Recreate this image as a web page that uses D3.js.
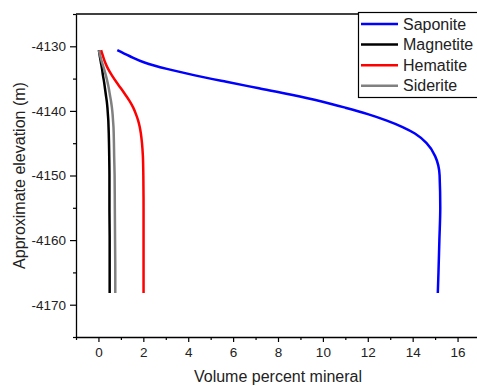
<!DOCTYPE html>
<html>
<head>
<meta charset="utf-8">
<script src="https://cdn.jsdelivr.net/npm/d3@7"></script>
<style>
  body { margin: 0; background: #fff; }
  svg { display: block; font-family: Arial, "Liberation Sans", sans-serif; }
</style>
</head>
<body>
<div id="chart"></div>
<script>
// elevation (m) shared by all series
const elevation = [-4130.6, -4131.5, -4132.5, -4133.5, -4134.5, -4135.5, -4136.5, -4137.5,
  -4138.5, -4139.5, -4140.5, -4141.5, -4142.5, -4143.5, -4145, -4147, -4150, -4155, -4160, -4165, -4168.2];

// volume percent per mineral
const saponite = [0.84, 1.38, 2.05, 3.05, 4.3, 5.7, 7.15, 8.6, 9.9, 11.0, 12.0, 12.85, 13.55, 14.1,
  14.62, 15.0, 15.2, 15.23, 15.19, 15.15, 15.12];
const magnetite = [0.02, 0.06, 0.11, 0.16, 0.2, 0.25, 0.29, 0.33, 0.37, 0.4, 0.42, 0.44, 0.45, 0.46,
  0.47, 0.48, 0.49, 0.49, 0.5, 0.5, 0.5];
const hematite = [0.12, 0.2, 0.3, 0.43, 0.6, 0.79, 1.0, 1.2, 1.39, 1.55, 1.67, 1.77, 1.84, 1.89,
  1.94, 1.98, 2.0, 2.01, 2.01, 2.01, 2.01];
const siderite = [0.02, 0.08, 0.16, 0.25, 0.33, 0.4, 0.46, 0.51, 0.56, 0.6, 0.63, 0.65, 0.67, 0.68,
  0.69, 0.7, 0.72, 0.73, 0.74, 0.75, 0.75];

const seriesNames = ['Saponite', 'Magnetite', 'Hematite', 'Siderite'];
const seriesColors = ['#0000ff', '#000000', '#ff0000', '#808080'];
const seriesValues = [saponite, magnetite, hematite, siderite];

const xTicks = [0, 2, 4, 6, 8, 10, 12, 14, 16];
const yTicks = [-4130, -4140, -4150, -4160, -4170];

const width = 477, height = 386;
const margin = { top: 14, right: -3, bottom: 49, left: 76 };
const font = 'Arial, "Liberation Sans", sans-serif';

const svg = d3.select('#chart').append('svg')
  .attr('width', width)
  .attr('height', height);

const x = d3.scaleLinear().domain([-1, 17]).range([margin.left, width - margin.right]);
const y = d3.scaleLinear().domain([-4125, -4175]).range([margin.top, height - margin.bottom]);

// frame: top border
svg.append('line')
  .attr('x1', x(-1)).attr('x2', x(17))
  .attr('y1', y(-4125)).attr('y2', y(-4125))
  .attr('stroke', '#000').attr('stroke-width', 1.3);

// minor ticks
svg.append('g')
  .attr('transform', 'translate(0,' + y(-4175) + ')')
  .call(d3.axisBottom(x).tickValues(d3.range(-1, 18, 2)).tickSize(3).tickFormat(''))
  .call(g => g.select('.domain').remove())
  .selectAll('line').attr('stroke-width', 1.2);

svg.append('g')
  .attr('transform', 'translate(' + x(-1) + ',0)')
  .call(d3.axisLeft(y).tickValues(d3.range(-4175, -4124, 10)).tickSize(3).tickFormat(''))
  .call(g => g.select('.domain').remove())
  .selectAll('line').attr('stroke-width', 1.2);

// major axes
const xAxis = svg.append('g')
  .attr('transform', 'translate(0,' + y(-4175) + ')')
  .call(d3.axisBottom(x).tickValues(xTicks).tickSize(5).tickSizeOuter(0).tickPadding(5)
    .tickFormat(d => String(d)));
xAxis.attr('font-family', font);
xAxis.select('.domain').attr('stroke-width', 1.3);
xAxis.selectAll('line').attr('stroke-width', 1.2);
xAxis.selectAll('text').style('font-size', '13.5px').attr('fill', '#222');

const yAxis = svg.append('g')
  .attr('transform', 'translate(' + x(-1) + ',0)')
  .call(d3.axisLeft(y).tickValues(yTicks).tickSize(6).tickSizeOuter(0).tickPadding(4)
    .tickFormat(d => String(d)));
yAxis.attr('font-family', font);
yAxis.select('.domain').attr('stroke-width', 1.3);
yAxis.selectAll('line').attr('stroke-width', 1.2);
yAxis.selectAll('text').style('font-size', '13.5px').attr('fill', '#222');

// axis titles
svg.append('text')
  .attr('x', (x(-1) + x(17)) / 2)
  .attr('y', 382)
  .attr('text-anchor', 'middle')
  .style('font-size', '16px')
  .attr('fill', '#222')
  .text('Volume percent mineral');

svg.append('text')
  .attr('transform', 'rotate(-90)')
  .attr('x', -(y(-4125) + y(-4175)) / 2)
  .attr('y', 25)
  .attr('text-anchor', 'middle')
  .style('font-size', '16px')
  .attr('fill', '#222')
  .text('Approximate elevation (m)');

// curves
const line = d3.line()
  .x(d => x(d[0]))
  .y(d => y(d[1]))
  .curve(d3.curveMonotoneY);

seriesValues.forEach((vals, i) => {
  svg.append('path')
    .datum(vals.map((v, j) => [v, elevation[j]]))
    .attr('fill', 'none')
    .attr('stroke', seriesColors[i])
    .attr('stroke-width', 2.5)
    .attr('d', line);
});

// legend
const legend = svg.append('g');
legend.append('rect')
  .attr('x', 358.5).attr('y', 12.5)
  .attr('width', 140).attr('height', 85)
  .attr('fill', '#fff')
  .attr('stroke', '#000')
  .attr('stroke-width', 1.2);

seriesNames.forEach((name, i) => {
  const ly = 24 + i * 20.6;
  legend.append('line')
    .attr('x1', 361).attr('x2', 398)
    .attr('y1', ly).attr('y2', ly)
    .attr('stroke', seriesColors[i])
    .attr('stroke-width', 2.5);
  legend.append('text')
    .attr('x', 403).attr('y', ly)
    .attr('dy', '0.35em')
    .style('font-size', '16px')
    .attr('fill', '#222')
    .text(name);
});
</script>
</body>
</html>
